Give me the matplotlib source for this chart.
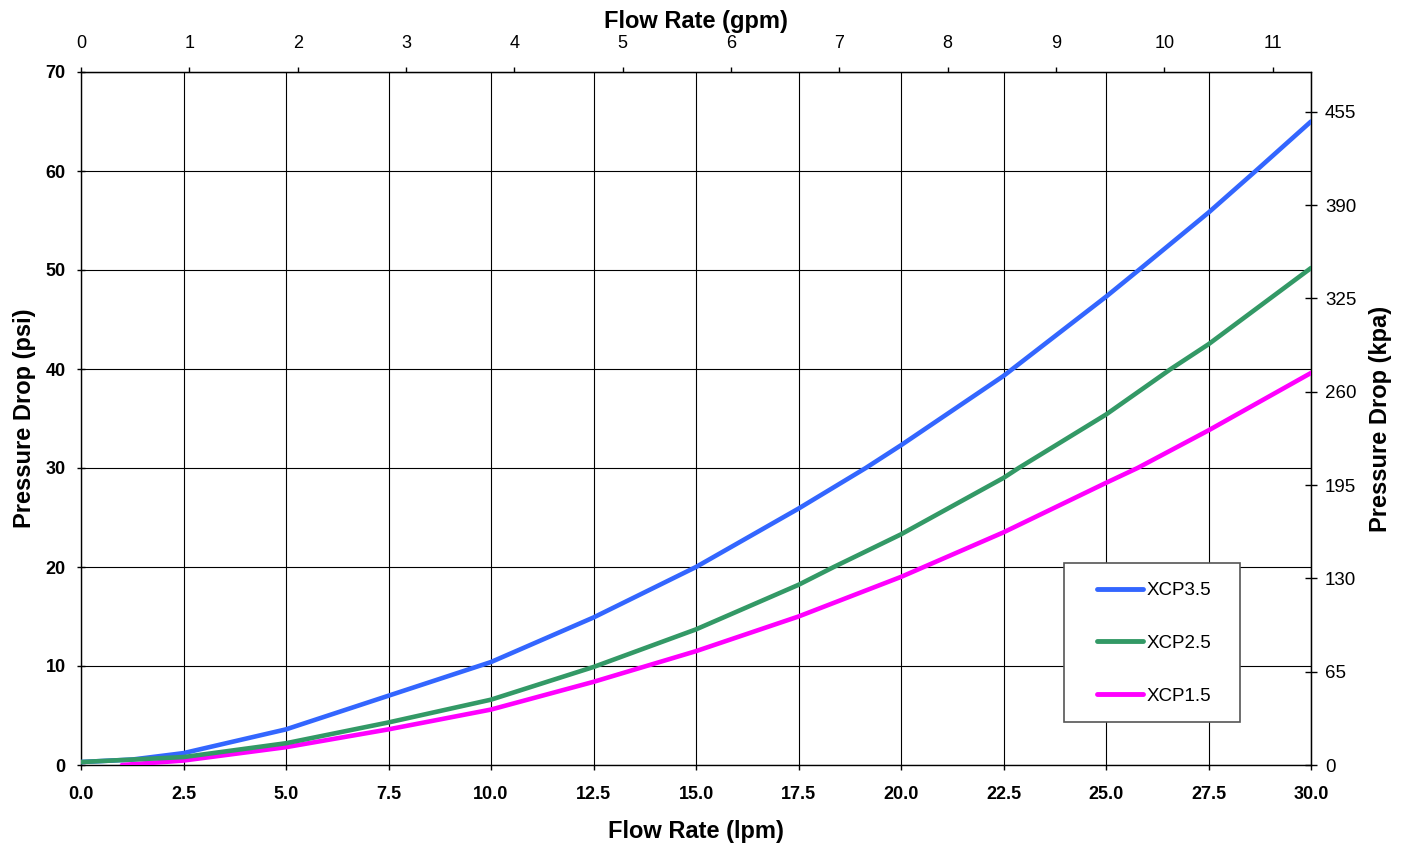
import matplotlib
matplotlib.use("Agg")
import matplotlib.pyplot as plt
from matplotlib.patches import Rectangle

plt.rcParams['font.family'] = ['Liberation Sans', 'DejaVu Sans']

# XCP3.5
x35 = [0.0, 1.25, 2.5, 5.0, 7.5, 10.0, 12.5, 15.0, 17.5, 19.14, 20.0, 22.5, 25.0, 25.8, 27.5, 28.65, 30.0]
y35 = [0.3, 0.55, 1.2, 3.6, 7.0, 10.4, 14.9, 20.0, 25.9, 30.0, 32.3, 39.3, 47.3, 50.0, 55.8, 60.0, 65.0]
# XCP2.5
x25 = [0.0, 2.5, 5.0, 7.5, 10.0, 12.5, 15.0, 17.5, 18.36, 20.0, 22.5, 22.87, 25.0, 26.58, 27.5, 30.0]
y25 = [0.3, 0.8, 2.2, 4.3, 6.6, 9.9, 13.7, 18.2, 20.0, 23.3, 29.0, 30.0, 35.4, 40.0, 42.5, 50.2]
# XCP1.5
x15 = [1.0, 2.5, 5.0, 7.5, 10.0, 12.5, 15.0, 17.5, 20.0, 22.5, 25.0, 25.77, 27.5, 30.0]
y15 = [0.0, 0.45, 1.8, 3.6, 5.6, 8.4, 11.5, 15.0, 19.0, 23.5, 28.5, 30.0, 33.8, 39.6]

series = [("XCP3.5", x35, y35, "#3366FF", 3),
          ("XCP2.5", x25, y25, "#339966", 5),
          ("XCP1.5", x15, y15, "#FF00FF", 4)]

x_ticks = [0.0, 2.5, 5.0, 7.5, 10.0, 12.5, 15.0, 17.5, 20.0, 22.5, 25.0, 27.5, 30.0]
y_ticks = [0, 10, 20, 30, 40, 50, 60, 70]
gpm_ticks = list(range(0, 12))
kpa_ticks = [0, 65, 130, 195, 260, 325, 390, 455]

LPM_PER_GPM = 2.642
KPA_PER_PSI = 6.895

W, H = 1403, 844
fig = plt.figure(figsize=(W / 100, H / 100), dpi=100)
L, R, T, B = 81, 1311, 72, 765
ax = fig.add_axes([L / W, (H - B) / H, (R - L) / W, (B - T) / H])

for name, x, y, c, z in series:
    ax.plot(x, y, color=c, lw=3.3, label=name, solid_capstyle='round',
            solid_joinstyle='round', zorder=z)

ax.set_xlim(0, 30)
ax.set_ylim(0, 70)
ax.set_xticks(x_ticks)
ax.set_xticklabels([f"{v:.1f}" for v in x_ticks], fontweight='bold', fontsize=13)
ax.set_yticks(y_ticks)
ax.set_yticklabels([str(v) for v in y_ticks], fontweight='bold', fontsize=13)
ax.grid(True, color='black', lw=0.8)
ax.tick_params(axis='x', direction='out', length=3.6, width=1, pad=11.5)
ax.tick_params(axis='y', direction='inout', length=6, width=1, pad=8)
for s in ax.spines.values():
    s.set_linewidth(1.0)
ax.set_xlabel("Flow Rate (lpm)", fontweight='bold', fontsize=17, labelpad=12)
ax.set_ylabel("Pressure Drop (psi)", fontweight='bold', fontsize=17, labelpad=7)

top = ax.secondary_xaxis('top', functions=(lambda v: v / LPM_PER_GPM, lambda v: v * LPM_PER_GPM))
top.set_xticks(gpm_ticks)
top.set_xticklabels([str(v) for v in gpm_ticks], fontsize=13)
top.tick_params(direction='out', length=3.6, width=1, pad=11)
top.set_xlabel("Flow Rate (gpm)", fontweight='bold', fontsize=17, labelpad=5)

right = ax.secondary_yaxis('right', functions=(lambda v: v * KPA_PER_PSI, lambda v: v / KPA_PER_PSI))
right.set_yticks(kpa_ticks)
right.set_yticklabels([str(v) for v in kpa_ticks], fontsize=13.5)
right.tick_params(direction='inout', length=8, width=1, pad=6)
right.set_ylabel("Pressure Drop (kpa)", fontweight='bold', fontsize=17, labelpad=9)

# legend frame
lx0, lx1, ly0, ly1 = 1064, 1240, 563, 722
ax.add_patch(Rectangle(((lx0 - L) / (R - L), (B - ly1) / (B - T)),
                       (lx1 - lx0) / (R - L), (ly1 - ly0) / (B - T),
                       transform=ax.transAxes, facecolor='white', edgecolor='#555555',
                       lw=1.2, zorder=6))
leg = ax.legend(loc='upper left', bbox_to_anchor=((1097 - L) / (R - L), (B - 582) / (B - T)),
                fontsize=13.5, frameon=False, handlelength=2.45, handletextpad=0.18,
                labelspacing=1.9, borderpad=0, borderaxespad=0)
leg.set_zorder(7)
for h in leg.get_lines():
    h.set_linewidth(3.5)

fig.savefig("out.png", dpi=100)
